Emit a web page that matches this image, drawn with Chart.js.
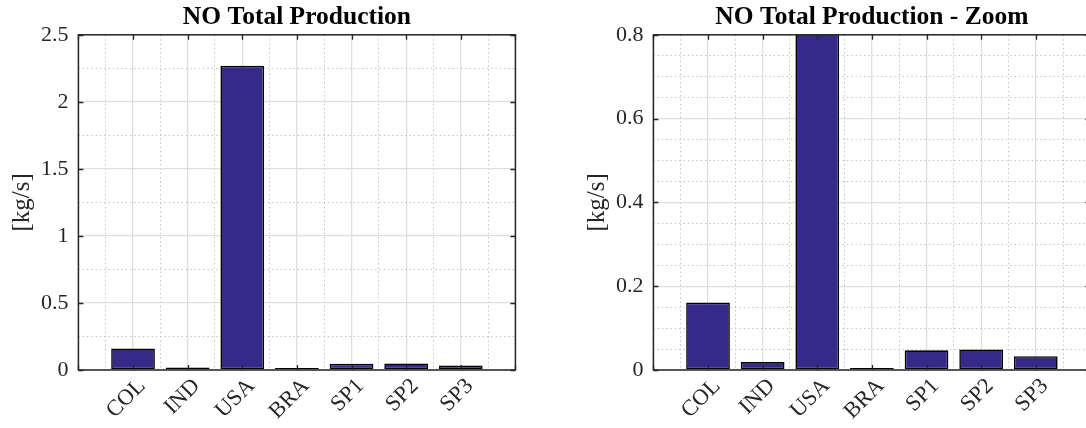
<!DOCTYPE html>
<html><head><meta charset="utf-8">
<script src="https://cdn.jsdelivr.net/npm/chart.js@4.4.1/dist/chart.umd.min.js"></script>
<style>
html,body{margin:0;padding:0;width:1086px;height:428px;overflow:hidden;background:#fff;}
canvas{position:absolute;top:0;}
#c1{left:0px}
#c2{left:575px}
</style></head><body>
<canvas id="c1" width="543" height="428"></canvas>
<canvas id="c2" width="543" height="428"></canvas>
<script>
// ---- data ----
const categories = ['COL', 'IND', 'USA', 'BRA', 'SP1', 'SP2', 'SP3'];
const production = [0.161, 0.019, 2.27, 0.002, 0.047, 0.049, 0.033];
const xTickValues = [0, 1, 2, 3, 4, 5, 6, 7, 8];
const xMinorValues = [0.5, 1.5, 2.5, 3.5, 4.5, 5.5, 6.5, 7.5];
const yTicksFull = [0, 0.5, 1, 1.5, 2, 2.5];
const yMinorFull = [0.25, 0.75, 1.25, 1.75, 2.25];
const yTicksZoom = [0, 0.2, 0.4, 0.6, 0.8];
const yMinorZoom = [0.05, 0.1, 0.15, 0.25, 0.3, 0.35, 0.45, 0.5, 0.55, 0.65, 0.7, 0.75];
const titles = ['NO Total Production', 'NO Total Production - Zoom'];
const yLabel = '[kg/s]';

const FAMILY = "'Liberation Serif', 'Times New Roman', serif";
const AXIS_COLOR = '#262626';

const boxAndTicks = {
  id: 'boxAndTicks',
  afterDraw(chart) {
    const {ctx, chartArea: a, scales} = chart;
    const len = 5;
    ctx.save();
    ctx.strokeStyle = AXIS_COLOR;
    ctx.lineWidth = 1.3;
    ctx.beginPath();
    scales.x.ticks.forEach(t => {
      const px = Math.round(scales.x.getPixelForValue(t.value)) + 0.5;
      ctx.moveTo(px, a.bottom); ctx.lineTo(px, a.bottom - len);
      ctx.moveTo(px, a.top); ctx.lineTo(px, a.top + len);
    });
    scales.y.ticks.forEach(t => {
      const py = Math.round(scales.y.getPixelForValue(t.value)) + 0.5;
      ctx.moveTo(a.left, py); ctx.lineTo(a.left + len, py);
      ctx.moveTo(a.right, py); ctx.lineTo(a.right - len, py);
    });
    ctx.stroke();
    ctx.lineWidth = 1.5;
    ctx.strokeRect(a.left, a.top, a.right - a.left, a.bottom - a.top);
    ctx.restore();
  }
};

function makeChart(id, title, yMax, yTicks, yMinor) {
  new Chart(document.getElementById(id), {
    type: 'bar',
    data: {
      datasets: [{
        data: categories.map((c, i) => ({x: i + 1, y: production[i]})),
        backgroundColor: '#352a87',
        borderColor: '#000000',
        borderWidth: 1.6,
        borderSkipped: false,
        barPercentage: 0.8,
        categoryPercentage: 1.0,
        minBarLength: 2,
        clip: 0
      }]
    },
    options: {
      responsive: false,
      animation: false,
      layout: {padding: {left: 0, right: 27.6, top: 0, bottom: 0}},
      plugins: {
        legend: {display: false},
        tooltip: {enabled: false},
        title: {
          display: true, text: title, color: '#000000', fullSize: false,
          font: {family: FAMILY, size: 25.5, weight: 'bold', lineHeight: 1.2},
          padding: {top: 2, bottom: 2.2}
        }
      },
      scales: {
        x: {
          type: 'linear', position: 'bottom', min: 0, max: 8, offset: false,
          afterBuildTicks: s => { s.ticks = xTickValues.map(v => ({value: v})); },
          afterFit: s => { s.height = 58; },
          ticks: {
            autoSkip: false, minRotation: 45, maxRotation: 45, padding: 3, labelOffset: 9,
            color: AXIS_COLOR, font: {family: FAMILY, size: 22.5},
            callback: v => categories[v - 1] || ''
          },
          grid: {color: '#dfdfdf', lineWidth: 1.3, drawTicks: false, offset: false},
          border: {display: false}
        },
        xm: {
          type: 'linear', position: 'top', min: 0, max: 8, offset: false,
          afterBuildTicks: s => { s.ticks = xMinorValues.map(v => ({value: v})); },
          afterFit: s => { s.height = 0; },
          ticks: {display: false},
          grid: {color: '#bdbdbd', lineWidth: 1, drawTicks: false, offset: false},
          border: {display: false, dash: [1.3, 3]}
        },
        y: {
          type: 'linear', position: 'left', min: 0, max: yMax,
          afterBuildTicks: s => { s.ticks = yTicks.map(v => ({value: v})); },
          afterFit: s => { s.width = 78.4; },
          ticks: {
            color: AXIS_COLOR, font: {family: FAMILY, size: 22}, padding: 10,
            callback: v => String(v)
          },
          grid: {color: '#dfdfdf', lineWidth: 1.3, drawTicks: false},
          border: {display: false},
          title: {
            display: true, text: yLabel, color: AXIS_COLOR,
            font: {family: FAMILY, size: 25, lineHeight: 1.2},
            padding: {top: 7.5, bottom: 0}
          }
        },
        ym: {
          type: 'linear', position: 'right', min: 0, max: yMax,
          afterBuildTicks: s => { s.ticks = yMinor.map(v => ({value: v})); },
          afterFit: s => { s.width = 0; },
          ticks: {display: false},
          grid: {color: '#bdbdbd', lineWidth: 1, drawTicks: false},
          border: {display: false, dash: [1.3, 3]}
        }
      }
    },
    plugins: [boxAndTicks]
  });
}

makeChart('c1', titles[0], 2.5, yTicksFull, yMinorFull);
makeChart('c2', titles[1], 0.8, yTicksZoom, yMinorZoom);
</script>
</body></html>
